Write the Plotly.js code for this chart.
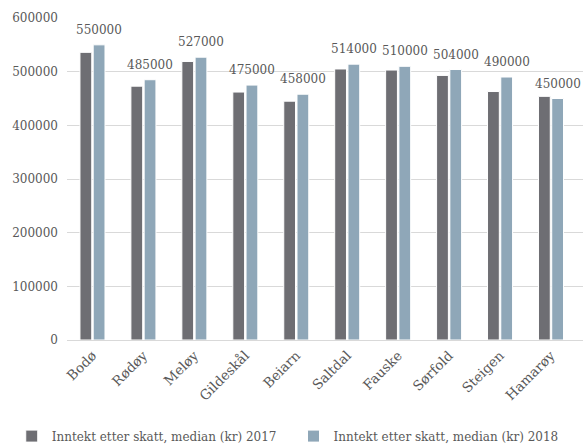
<!DOCTYPE html>
<html><head><meta charset="utf-8">
<script src="https://cdn.plot.ly/plotly-3.0.1.min.js"></script>
<style>html,body{margin:0;padding:0;background:#fff}#c{width:587px;height:445px}</style>
</head><body><div id="c"></div>
<script>
const categories = ["Bodø","Rødøy","Meløy","Gildeskål","Beiarn","Saltdal","Fauske","Sørfold","Steigen","Hamarøy"];
const values2017 = [536000,473000,519000,462000,445000,505000,503000,493000,463000,454000];
const values2018 = [550000,485000,527000,475000,458000,514000,510000,504000,490000,450000];
const name2017 = "Inntekt etter skatt, median (kr) 2017";
const name2018 = "Inntekt etter skatt, median (kr) 2018";

const font = "'DejaVu Serif', serif";
const txtColor = "#595959";

const traces = [
  {type:"bar", x:categories, y:values2017, name:name2017, legend:"legend",
   marker:{color:"#6e6e73", line:{color:"#ffffff", width:1}}},
  {type:"bar", x:categories, y:values2018, name:name2018, legend:"legend2",
   marker:{color:"#8fa7b8", line:{color:"#ffffff", width:1}}}
];

const annotations = categories.map((c,i)=>({
  x:c, y:values2018[i], xref:"x", yref:"y", text:String(values2018[i]),
  showarrow:false, xanchor:"center", yanchor:"bottom", xshift:7, yshift:6,
  font:{family:font, size:12, color:txtColor}
}));

const legendBase = {orientation:"h", xanchor:"left", xref:"container",
  y:0.02, yref:"container", yanchor:"middle", bgcolor:"rgba(0,0,0,0)",
  font:{family:font, size:12, color:txtColor}, itemwidth:30, tracegroupgap:0};

const layout = {
  width:587, height:445,
  margin:{l:67, r:4, t:18, b:105},
  paper_bgcolor:"#fff", plot_bgcolor:"#fff",
  font:{family:font, size:12, color:txtColor},
  barmode:"group", bargap:0.48, bargroupgap:0.11,
  showlegend:true,
  legend:Object.assign({}, legendBase, {x:0.02}),
  legend2:Object.assign({}, legendBase, {x:0.5}),
  xaxis:{type:"category", tickangle:-45, showgrid:false, showline:false, ticks:"",
         automargin:false, ticklabelstandoff:4, tickfont:{family:font, size:13.5, color:txtColor}},
  yaxis:{range:[0,600000], dtick:100000, tickformat:"d", showgrid:true, gridcolor:"#d9d9d9",
         zeroline:true, zerolinecolor:"#d9d9d9", zerolinewidth:1, showline:false, ticks:"",
         automargin:false, ticklabelstandoff:8,
         tickfont:{family:font, size:12, color:txtColor}},
  annotations:annotations
};
Plotly.newPlot("c", traces, layout, {displayModeBar:false, staticPlot:true});
</script></body></html>
